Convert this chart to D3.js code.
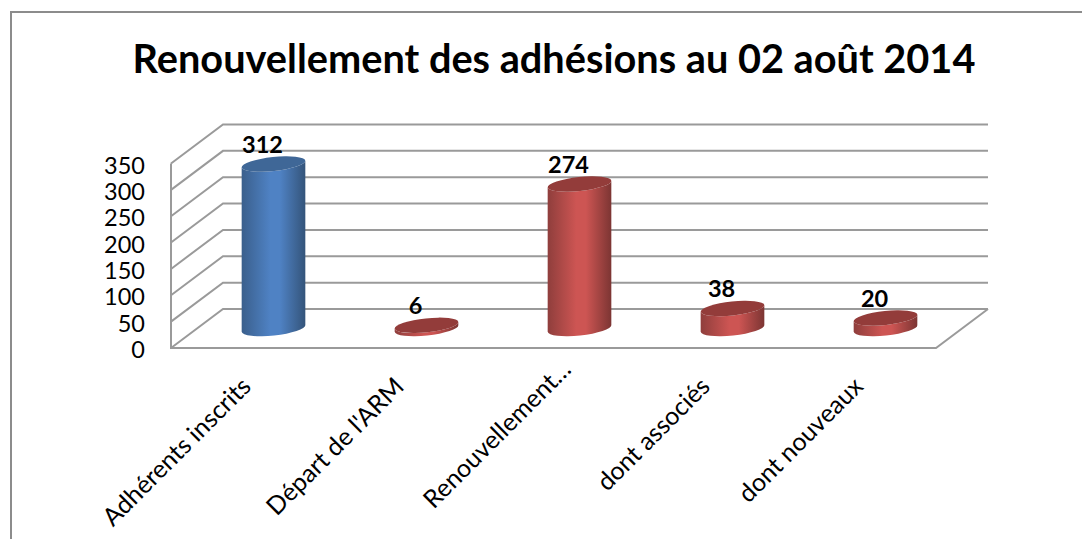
<!DOCTYPE html>
<html>
<head>
<meta charset="utf-8">
<script src="https://cdn.jsdelivr.net/npm/d3@7"></script>
<style>
    html, body { margin: 0; padding: 0; background: #fff; overflow: hidden; }
    svg { display: block; font-family: Lato, "Open Sans", sans-serif; }
</style>
</head>
<body>
<svg id="chart" width="1082" height="539"></svg>
<script>
// Chart data
const categories = ["Adhérents inscrits", "Départ de l'ARM", "Renouvellement…", "dont associés", "dont nouveaux"];
const values = [312, 6, 274, 38, 20];
const yTicks = [0, 50, 100, 150, 200, 250, 300, 350];
const title = "Renouvellement des adhésions au 02 août 2014";

const width = 1082, height = 539;
const gridColor = "#9a9a9a";

// The 3D box: the bars stand half way between the front and back of the floor
const depth = { dx: 26, dy: 19.5 };
const svg = d3.select("#chart");

const x = d3.scaleBand().domain(categories).range([197, 962]);
const y = d3.scaleLinear().domain([0, 350]).range([328.5, 144]);

// Shading across the cylinders
const defs = svg.append("defs");
function addGradient(id, leftEdge, mid, rightEdge) {
    const g = defs.append("linearGradient").attr("id", id);
    g.append("stop").attr("offset", "0%").attr("stop-color", leftEdge);
    g.append("stop").attr("offset", "45%").attr("stop-color", mid);
    g.append("stop").attr("offset", "60%").attr("stop-color", mid);
    g.append("stop").attr("offset", "100%").attr("stop-color", rightEdge);
}
addGradient("blueBody", "#3a5f8c", "#4f82c4", "#34547a");
addGradient("redBody", "#8f3e3c", "#cd5553", "#7c3533");

// Outer frame
svg.append("path")
    .attr("d", `M11,${height} V12 H${width}`)
    .attr("fill", "none")
    .attr("stroke", "#8c8c8c")
    .attr("stroke-width", 2);

// Title
svg.append("text")
    .attr("x", 554)
    .attr("y", 73)
    .attr("text-anchor", "middle")
    .attr("font-size", 39.7)
    .attr("font-weight", "bold")
    .text(title);

// Walls and gridlines
const left = x.range()[0] - depth.dx;
const right = x.range()[1] + depth.dx;
const grid = svg.append("g")
    .attr("fill", "none")
    .attr("stroke", gridColor)
    .attr("stroke-width", 2);

grid.selectAll("path.gridline")
    .data(yTicks)
    .join("path")
    .attr("class", "gridline")
    .attr("d", d => {
        const front = y(d) + depth.dy;
        const back = y(d) - depth.dy;
        return `M${left},${front} L${left + 2 * depth.dx},${back} H${right}`;
    });

// Left wall edge and floor edges
grid.append("path")
    .attr("d", `M${left},${y(350) + depth.dy} V${y(0) + depth.dy} H${right - 2 * depth.dx} L${right},${y(0) - depth.dy}`);

// Y axis labels
const yAxis = svg.append("g")
    .attr("transform", `translate(${left - 26},${depth.dy + 2})`)
    .call(d3.axisLeft(y).tickValues(yTicks).tickSize(0).tickPadding(0));
yAxis.select(".domain").remove();
yAxis.selectAll("text")
    .attr("font-size", 23.5)
    .attr("font-family", "Lato")
    .attr("fill", "#000");

// Cylinders
const rx = 32, ry = 7, tilt = -6;
const tiltRad = tilt * Math.PI / 180;
const ex = rx * Math.cos(tiltRad), ey = rx * Math.sin(tiltRad);

const bars = svg.append("g")
    .selectAll("g")
    .data(categories)
    .join("g")
    .attr("transform", d => `translate(${x(d) + x.bandwidth() / 2},0)`);

// Body: side walls and the rounded bottom
bars.append("path")
    .attr("fill", (d, i) => i === 0 ? "url(#blueBody)" : "url(#redBody)")
    .attr("d", (d, i) => {
        const top = y(values[i]), base = y(0);
        return `M${-ex},${top - ey} L${-ex},${base - ey}`
            + ` A${rx},${ry} ${tilt} 0 0 ${ex},${base + ey}`
            + ` L${ex},${top + ey}`
            + ` A${rx},${ry} ${tilt} 0 1 ${-ex},${top - ey} Z`;
    });

// Darker top face
bars.append("ellipse")
    .attr("rx", rx)
    .attr("ry", ry)
    .attr("fill", (d, i) => i === 0 ? "#3f6797" : "#933c3a")
    .attr("transform", (d, i) => `translate(0,${y(values[i])}) rotate(${tilt})`);

// Value labels
bars.append("text")
    .attr("x", -11)
    .attr("y", (d, i) => y(values[i]) - 11)
    .attr("text-anchor", "middle")
    .attr("font-size", 23.5)
    .attr("font-weight", "bold")
    .text((d, i) => values[i]);

// Category labels, rotated. The truncated label sits a little higher than the others
const xAxis = svg.append("g")
    .attr("transform", `translate(0,${y(0) + depth.dy})`)
    .call(d3.axisBottom(x).tickSize(0).tickPadding(0));
xAxis.select(".domain").remove();
xAxis.selectAll("text")
    .attr("font-size", 25)
    .attr("font-family", "Lato")
    .attr("fill", "#000")
    .attr("text-anchor", "end")
    .attr("dy", 0)
    .attr("transform", (d, i) => i === 2 ? "translate(-7,23) rotate(-45)" : "translate(-21,40) rotate(-45)");
</script>
</body>
</html>
